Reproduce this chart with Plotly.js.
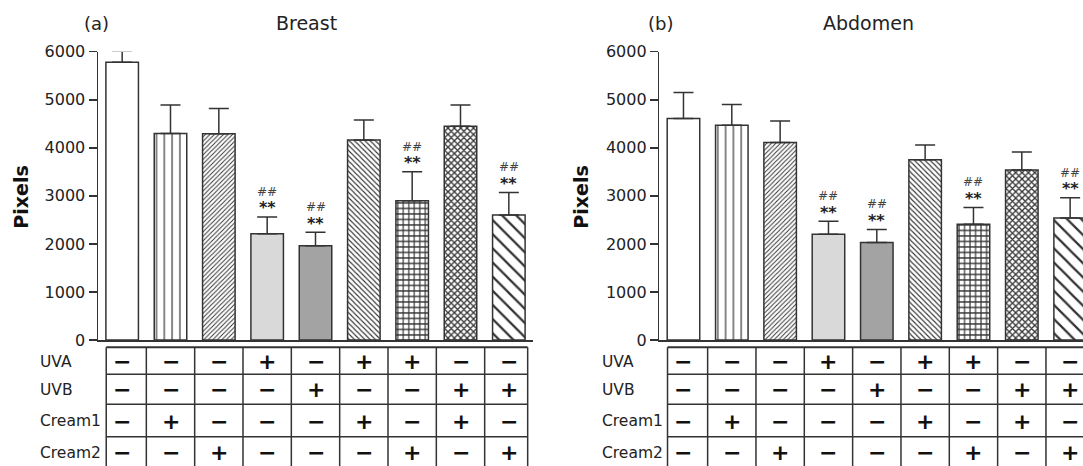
<!DOCTYPE html>
<html>
<head>
<meta charset="utf-8">
<script src="https://cdn.plot.ly/plotly-3.0.1.min.js"></script>
<style>
html,body{margin:0;padding:0;overflow:hidden;background:#fff;width:1083px;height:466px;}
#chart{width:1100px;height:466px;}
</style>
</head>
<body>
<div id="chart"></div>
<script>
// ---- data ----
const groups = ['Control','Cream1','Cream2','UVA','UVB','UVA+Cream1','UVA+Cream2','UVB+Cream1','UVB+Cream2'];
const breastValues = [5780, 4300, 4290, 2210, 1960, 4160, 2900, 4450, 2600];
const breastErrors = [230, 590, 530, 350, 280, 420, 600, 440, 470];
const abdomenValues = [4610, 4470, 4110, 2200, 2030, 3750, 2410, 3540, 2540];
const abdomenErrors = [540, 430, 450, 270, 270, 310, 350, 370, 420];
const breastSig = [0, 0, 0, 1, 1, 0, 1, 0, 1];
const abdomenSig = [0, 0, 0, 1, 1, 0, 1, 0, 1];
const rowLabels = ['UVA', 'UVB', 'Cream1', 'Cream2'];
const uvaRow    = [0, 0, 0, 1, 0, 1, 1, 0, 0];
const uvbRow    = [0, 0, 0, 0, 1, 0, 0, 1, 1];
const cream1Row = [0, 1, 0, 0, 0, 1, 0, 1, 0];
const cream2Row = [0, 0, 1, 0, 0, 0, 1, 0, 1];
const yTicks = [0, 1000, 2000, 3000, 4000, 5000, 6000];
const panelLabels = ['(a)', '(b)'];
const panelTitles = ['Breast', 'Abdomen'];

// ---- styles ----
const W = 1100, H = 466;
const FONT = 'DejaVu Sans, Arial, sans-serif';
const INK = '#333';
const fillColors = ['#ffffff','#ffffff','#ffffff','#d9d9d9','#a3a3a3','#ffffff','#ffffff','#ffffff','#ffffff'];
const patShapes = ['', '|', '/', '', '', '\\', '+', 'x', '\\'];
const patSizes = [8, 7.8, 3.2, 8, 8, 3.7, 5.5, 4.5, 10];
const patSolidity = [0.2, 0.15, 0.3, 0.2, 0.2, 0.3, 0.38, 0.5, 0.22];
const px = x => x / W;
const py = y => 1 - y / H;

const panels = [
  {vals: breastValues, errs: breastErrors, sig: breastSig, x0: 98, labX: 38, pixX: 20.7, aX: 96.7, tX: 306.5},
  {vals: abdomenValues, errs: abdomenErrors, sig: abdomenSig, x0: 659.3, labX: 600, pixX: 580.7, aX: 660, tX: 868}
];
const axW = 435;
const yTop = 51.7, yBot = 340;

const traces = [];
const annotations = [];
const shapes = [];
const layout = {
  width: W, height: H,
  margin: {l: 0, r: 0, t: 0, b: 0},
  paper_bgcolor: '#fff', plot_bgcolor: 'rgba(0,0,0,0)',
  showlegend: false,
  barmode: 'overlay',
  bargap: 0.327,
  font: {family: FONT, color: INK},
  annotations: annotations,
  shapes: shapes
};

const rows = [uvaRow, uvbRow, cream1Row, cream2Row];
const rowCenters = [361.5, 389.5, 421, 452.5];
const rowLines = [347.3, 374.3, 404.3, 436.7];
const sym = v => v ? '<b>+</b>' : '<b>\u2212</b>';

panels.forEach((p, k) => {
  const xa = k === 0 ? 'x' : 'x2';
  const ya = k === 0 ? 'y' : 'y2';
  const xKey = k === 0 ? 'xaxis' : 'xaxis2';
  const yKey = k === 0 ? 'yaxis' : 'yaxis2';
  groups.forEach((g, i) => {
    const marker = {color: fillColors[i], line: {color: INK, width: 1.5}};
    if (patShapes[i]) {
      marker.pattern = {shape: patShapes[i], size: patSizes[i], solidity: patSolidity[i],
                        fgcolor: INK, bgcolor: fillColors[i], fillmode: 'replace'};
    }
    traces.push({
      type: 'bar', x: [g], y: [p.vals[i]], xaxis: xa, yaxis: ya,
      marker: marker,
      error_y: {type: 'data', symmetric: false, array: [p.errs[i]], arrayminus: [0],
                color: INK, thickness: 1.5, width: 10},
      hoverinfo: 'skip'
    });
  });
  layout[xKey] = {
    domain: [px(p.x0), px(p.x0 + axW)], anchor: ya,
    type: 'category', categoryorder: 'array', categoryarray: groups, range: [-0.5, 8.5],
    showline: true, linecolor: INK, linewidth: 1.5,
    showticklabels: false, ticks: '', showgrid: false, zeroline: false, fixedrange: true
  };
  layout[yKey] = {
    domain: [py(yBot), py(yTop)], anchor: xa,
    range: [0, 6000], tickvals: yTicks, ticktext: yTicks.map(String),
    showline: true, linecolor: INK, linewidth: 1.5,
    ticks: 'outside', ticklen: 8, tickwidth: 1.5, tickcolor: INK,
    tickfont: {family: FONT, size: 16, color: '#222'},
    showgrid: false, zeroline: false, fixedrange: true
  };
  annotations.push({xref: 'paper', yref: 'paper', x: px(p.aX), y: py(23), text: panelLabels[k],
    showarrow: false, xanchor: 'center', yanchor: 'middle', font: {family: FONT, size: 18, color: '#222'}});
  annotations.push({xref: 'paper', yref: 'paper', x: px(p.tX), y: py(23), text: panelTitles[k],
    showarrow: false, xanchor: 'center', yanchor: 'middle', font: {family: FONT, size: 19, color: '#222'}});
  annotations.push({xref: 'paper', yref: 'paper', x: px(p.pixX), y: py(197), text: '<b>Pixels</b>', textangle: -90,
    showarrow: false, xanchor: 'center', yanchor: 'middle', font: {family: FONT, size: 19, color: '#111'}});
  p.sig.forEach((s, i) => {
    if (!s) return;
    const top = p.vals[i] + p.errs[i];
    annotations.push({xref: xa, yref: ya, x: i, y: top, yshift: 9, text: '<b>**</b>', showarrow: false,
      xanchor: 'center', yanchor: 'middle', font: {family: FONT, size: 16, color: '#222'}});
    annotations.push({xref: xa, yref: ya, x: i, y: top, yshift: 25, text: '##', showarrow: false,
      xanchor: 'center', yanchor: 'middle', font: {family: FONT, size: 12, color: '#444'}});
  });
  rowLabels.forEach((lab, r) => {
    annotations.push({xref: 'paper', yref: 'paper', x: px(p.labX), y: py(rowCenters[r]), text: lab,
      showarrow: false, xanchor: 'left', yanchor: 'middle', font: {family: FONT, size: 15.5, color: '#222'}});
    rows[r].forEach((v, i) => {
      annotations.push({xref: xa, yref: 'paper', x: i, y: py(rowCenters[r]), text: sym(v),
        showarrow: false, xanchor: 'center', yanchor: 'middle', font: {family: FONT, size: 22, color: '#111'}});
    });
  });
  const left = -0.33, right = 8.39;
  rowLines.forEach((yy, r) => {
    shapes.push({type: 'line', xref: xa, yref: 'paper', x0: left, x1: right, y0: py(yy), y1: py(yy),
      line: {color: INK, width: r === 0 ? 2 : 1.5}});
  });
  const vxs = [left, 0.5, 1.5, 2.5, 3.5, 4.5, 5.5, 6.5, 7.5, right];
  vxs.forEach(vx => {
    shapes.push({type: 'line', xref: xa, yref: 'paper', x0: vx, x1: vx, y0: py(rowLines[0]), y1: py(470),
      line: {color: INK, width: 1.5}});
  });
});

Plotly.newPlot('chart', traces, layout, {staticPlot: true, displayModeBar: false});
</script>
</body>
</html>
